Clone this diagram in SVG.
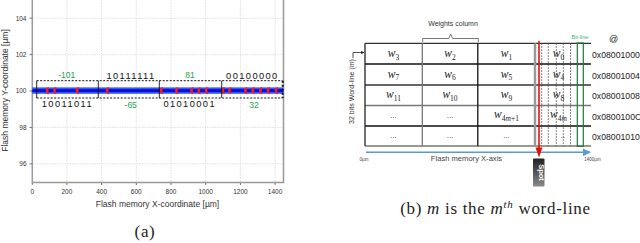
<svg xmlns="http://www.w3.org/2000/svg" width="640" height="243" viewBox="0 0 640 243">
<defs>
<style>
.tick{font-family:"Liberation Sans",Arial,sans-serif;font-size:6.5px;fill:#333}
.axl{font-family:"Liberation Sans",Arial,sans-serif;font-size:8.5px;fill:#333;text-anchor:middle}
.bits{font-family:"Liberation Sans",Arial,sans-serif;font-size:9.3px;letter-spacing:1.4px;fill:#111;text-anchor:middle}
.gn{font-family:"Liberation Sans",Arial,sans-serif;font-size:8.5px;fill:#1aa34a;text-anchor:middle}
.grid{stroke:#d9d9d9;stroke-width:0.8;stroke-dasharray:1.5 1;fill:none}
.cap{font-family:"Liberation Serif","Times New Roman",serif;font-size:17px;fill:#222;letter-spacing:0.7px}
.w{font-family:"Liberation Serif","Times New Roman",serif;font-style:italic;font-size:11.5px;fill:#222;text-anchor:middle}
.sub{font-style:normal;font-size:7.5px}
.addr{font-family:"Liberation Sans",Arial,sans-serif;font-size:8.7px;fill:#222}
.dots{font-family:"Liberation Sans",Arial,sans-serif;font-size:8px;fill:#333;text-anchor:middle}
.dl{stroke:#333;stroke-width:0.8;stroke-dasharray:1.5 1.5;fill:none}
.small{font-family:"Liberation Sans",Arial,sans-serif;font-size:4.5px;fill:#444;text-anchor:middle}
</style>
<path id="cr" d="M1,-3.6 A3.6,3.6 0 0 0 1,3.6 A0.9,3.6 0 0 1 1,-3.6Z" fill="#ff1a1a"/>
<marker id="ab" viewBox="0 0 10 10" refX="9" refY="5" markerWidth="5" markerHeight="5" orient="auto"><path d="M0,0 L10,5 L0,10z" fill="#5b9bd5"/></marker>
<marker id="ak" viewBox="0 0 10 10" refX="9" refY="5" markerWidth="4" markerHeight="4" orient="auto"><path d="M0,0 L10,5 L0,10z" fill="#222"/></marker>
<linearGradient id="sg" x1="0" y1="0" x2="0" y2="1"><stop offset="0" stop-color="#222"/><stop offset="1" stop-color="#8a8a8a"/></linearGradient>
</defs>

<g id="plot-a">
<g id="grid">
<path class="grid" d="M66.9,0V182M101.6,0V182M136.3,0V182M171,0V182M205.7,0V182M240.4,0V182M275.1,0V182M32,18.2H283M32,54.6H283M32,91H283M32,127.4H283M32,163.8H283"/>
</g>
<g id="axes" stroke="#999" stroke-width="1.5" fill="none">
<path d="M32.3,0V182.5H283.5V0"/>
<path stroke-width="0.8" stroke="#555" d="M29.5,18.2H32M29.5,54.6H32M29.5,91H32M29.5,127.4H32M29.5,163.8H32M32.3,183V185M66.9,183V185M101.6,183V185M136.3,183V185M171,183V185M205.7,183V185M240.4,183V185M275.1,183V185"/>
</g>
<g id="ticklabels" class="tick">
<text x="26.5" y="20.5" text-anchor="end">104</text>
<text x="26.5" y="56.9" text-anchor="end">102</text>
<text x="26.5" y="93.3" text-anchor="end">100</text>
<text x="26.5" y="129.7" text-anchor="end">98</text>
<text x="26.5" y="166.1" text-anchor="end">96</text>
<text x="32.3" y="194" text-anchor="middle">0</text>
<text x="66.9" y="194" text-anchor="middle">200</text>
<text x="101.6" y="194" text-anchor="middle">400</text>
<text x="136.3" y="194" text-anchor="middle">600</text>
<text x="171" y="194" text-anchor="middle">800</text>
<text x="205.7" y="194" text-anchor="middle">1000</text>
<text x="240.4" y="194" text-anchor="middle">1200</text>
<text x="275.1" y="194" text-anchor="middle">1400</text>
</g>
<text class="axl" x="157.5" y="207">Flash memory X-coordinate [µm]</text>
<text class="axl" transform="translate(8,90.5) rotate(-90)">Flash memory Y-coordinate [µm]</text>

<g id="band">
<rect x="32.3" y="87.4" width="251" height="6.4" fill="#3355ff"/>
<rect x="32.3" y="89.2" width="251" height="2.8" fill="#0a10cc"/>
</g>
<g id="markers">
<use href="#cr" x="48.3" y="90.6"/><use href="#cr" x="55.7" y="90.6"/><use href="#cr" x="78.3" y="90.6"/>
<use href="#cr" x="108.3" y="90.6"/>
<use href="#cr" x="162.3" y="90.6"/><use href="#cr" x="177.7" y="90.6"/><use href="#cr" x="192.7" y="90.6"/><use href="#cr" x="200" y="90.6"/><use href="#cr" x="207.3" y="90.6"/>
<use href="#cr" x="224" y="90.6"/><use href="#cr" x="230.7" y="90.6"/><use href="#cr" x="246.7" y="90.6"/><use href="#cr" x="254" y="90.6"/><use href="#cr" x="261.7" y="90.6"/><use href="#cr" x="269.3" y="90.6"/><use href="#cr" x="277.3" y="90.6"/>
</g>
<g id="boxes" fill="none" stroke="#111">
<path stroke-width="1" stroke-dasharray="2 1.5" d="M36.7,80.7H282.5M36.7,98H282.5"/>
<path stroke-width="0.9" d="M36.7,80.7V98M98.3,80.7V98M159.3,80.7V98M221.7,80.7V98"/>
<path stroke-width="2" stroke-dasharray="2 2" d="M282.7,80.7V98"/>
</g>
<g id="labels">
<text class="gn" x="66.7" y="77.5">-101</text>
<text class="bits" x="131" y="79">10111111</text>
<text class="gn" x="190" y="77.5">81</text>
<text class="bits" x="252.4" y="79">00100000</text>
<text class="bits" x="67.4" y="107.3">10011011</text>
<text class="gn" x="130.7" y="108.3">-65</text>
<text class="bits" x="189.7" y="107.3">01010001</text>
<text class="gn" x="254" y="108.3">32</text>
</g>
<text class="cap" x="145" y="237" text-anchor="middle">(a)</text>
</g>

<g id="diagram-b">
<g id="brace">
<path d="M422.7,42V38.5H448.7L450.7,34L452.7,38.5H478.3V42" fill="none" stroke="#555" stroke-width="0.8"/>
<text x="453" y="26" font-family="Liberation Sans, Arial, sans-serif" font-size="7" fill="#333" text-anchor="middle">Weights column</text>
</g>
<g id="wordline-label">
<text transform="translate(354,91.5) rotate(-90)" font-family="Liberation Sans, Arial, sans-serif" font-size="7" fill="#333" text-anchor="middle">32 bits Word-line (<tspan font-style="italic">m</tspan>)</text>
<path d="M353,58V52.5H364" fill="none" stroke="#222" stroke-width="0.8" marker-end="url(#ak)"/>
</g>
<g id="table">
<path d="M365,43.3H591" stroke="#333" stroke-width="1.3"/>
<path d="M365,64H591" stroke="#111" stroke-width="1.6"/>
<path d="M365,85H591" stroke="#333" stroke-width="1.6"/>
<path d="M365,105.5H591" stroke="#777" stroke-width="1.6"/>
<path d="M365,126H591" stroke="#111" stroke-width="1.6"/>
<path d="M365,146H591" stroke="#333" stroke-width="1"/>
<path d="M365,43.3V146" stroke="#222" stroke-width="1.3"/>
<path d="M422.3,43.3V146" stroke="#777" stroke-width="1.3"/>
<path d="M477.8,43.3V146" stroke="#111" stroke-width="1.3"/>
<path d="M535,43.3V146" stroke="#999" stroke-width="2.5"/>
<path class="dl" d="M541.7,43.3V146M548.3,43.3V146M556.3,43.3V146M563.3,43.3V146M570.5,43.3V146"/>
<rect x="577.3" y="43" width="6" height="103.3" fill="none" stroke="#1a7a3a" stroke-width="1.2"/>
</g>
<g id="cells">
<text class="w" x="393.5" y="57">w<tspan class="sub" dy="2.5">3</tspan></text>
<text class="w" x="450" y="57">w<tspan class="sub" dy="2.5">2</tspan></text>
<text class="w" x="506.5" y="57">w<tspan class="sub" dy="2.5">1</tspan></text>
<text class="w" x="558.5" y="57">w<tspan class="sub" dy="2.5">0</tspan></text>
<text class="w" x="393.5" y="77.5">w<tspan class="sub" dy="2.5">7</tspan></text>
<text class="w" x="450" y="77.5">w<tspan class="sub" dy="2.5">6</tspan></text>
<text class="w" x="506.5" y="77.5">w<tspan class="sub" dy="2.5">5</tspan></text>
<text class="w" x="558.5" y="77.5">w<tspan class="sub" dy="2.5">4</tspan></text>
<text class="w" x="393.5" y="98">w<tspan class="sub" dy="2.5">11</tspan></text>
<text class="w" x="450" y="98">w<tspan class="sub" dy="2.5">10</tspan></text>
<text class="w" x="506.5" y="98">w<tspan class="sub" dy="2.5">9</tspan></text>
<text class="w" x="558.5" y="98">w<tspan class="sub" dy="2.5">8</tspan></text>
<text class="dots" x="393.5" y="118">...</text>
<text class="dots" x="450" y="118">...</text>
<text class="w" x="506.5" y="118">w<tspan class="sub" dy="2.5">4<tspan font-style="italic">m</tspan>+1</tspan></text>
<text class="w" x="558.5" y="118">w<tspan class="sub" dy="2.5">4<tspan font-style="italic">m</tspan></tspan></text>
<text class="dots" x="393.5" y="138">...</text>
<text class="dots" x="450" y="138">...</text>
<text class="dots" x="506.5" y="138">...</text>
<text class="dots" x="562.7" y="138" font-size="6">..</text>
</g>
<g id="addresses" class="addr">
<text x="592" y="58">0x08001000</text>
<text x="592" y="78.5">0x08001004</text>
<text x="592" y="99">0x08001008</text>
<text x="592" y="119.5">0x0800100C</text>
<text x="592" y="139.5">0x08001010</text>
</g>
<text x="613.5" y="41.5" font-family="Liberation Sans, Arial, sans-serif" font-size="9" fill="#222" text-anchor="middle">@</text>
<text x="580" y="38.5" font-family="Liberation Sans, Arial, sans-serif" font-size="5.5" fill="#3cb371" text-anchor="middle">Bit-line</text>
<g id="x-axis">
<path d="M366,152.3H590" stroke="#5b9bd5" stroke-width="1.6" fill="none" marker-end="url(#ab)"/>
<text class="small" x="364" y="160.5">0µm</text>
<text x="466.5" y="161" font-family="Liberation Sans, Arial, sans-serif" font-size="7.6" fill="#444" text-anchor="middle">Flash memory X-axis</text>
<text class="small" x="592.5" y="160.5">1400µm</text>
</g>
<g id="spot">
<path d="M539,41V148" stroke="#e01010" stroke-width="1.6"/>
<path d="M535.5,147.5H542.5L539,157.5Z" fill="#e01010"/>
<rect x="533" y="158.5" width="11.5" height="28" rx="1" fill="url(#sg)"/>
<text transform="translate(538.8,172.5) rotate(90)" font-family="Liberation Sans, Arial, sans-serif" font-size="7.5" font-weight="bold" fill="#fff" text-anchor="middle">Spot</text>
</g>
<text class="cap" x="495.5" y="214" text-anchor="middle">(b) <tspan font-style="italic">m</tspan> is the <tspan font-style="italic">m</tspan><tspan font-style="italic" font-size="11" dy="-6">th</tspan><tspan dy="6"> word-line</tspan></text>
</g>
</svg>
